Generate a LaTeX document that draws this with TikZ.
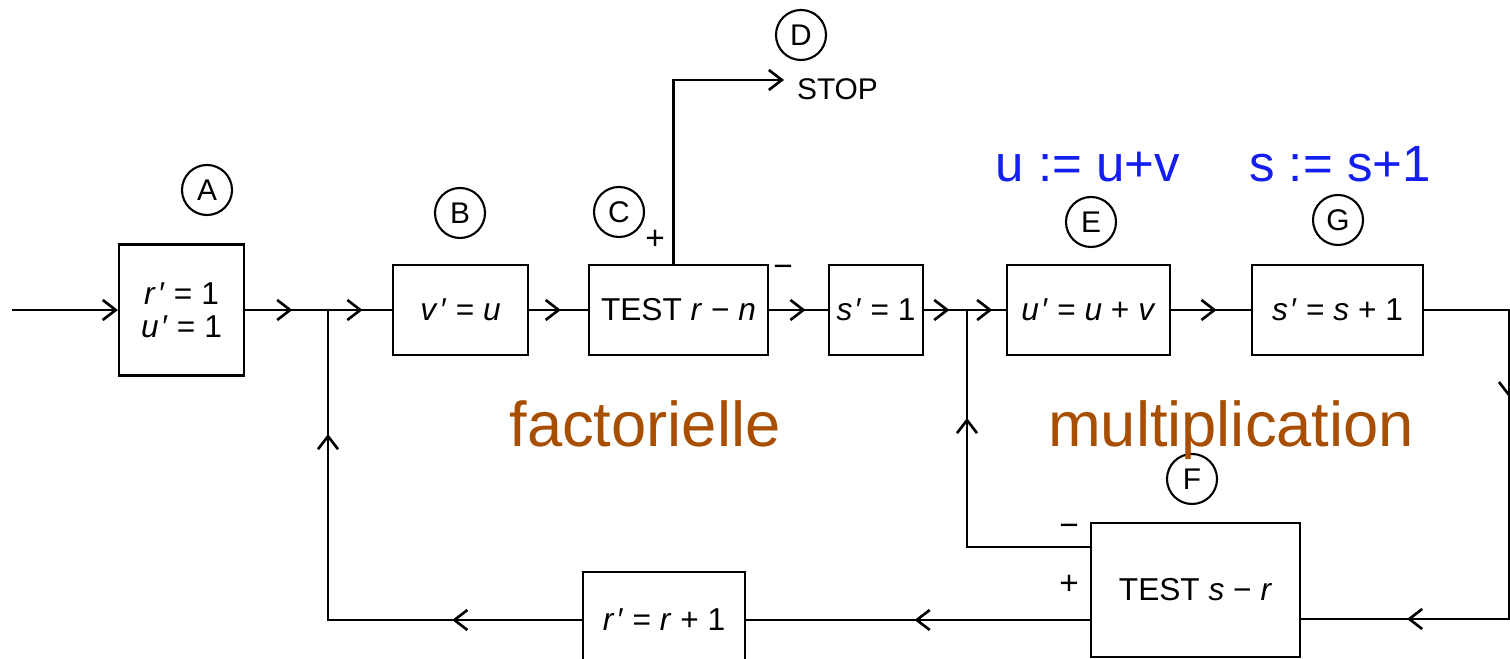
\documentclass[tikz,border=0pt]{standalone}
\usepackage{fontspec}
\setmainfont{Liberation Sans}
\usetikzlibrary{arrows.meta,decorations.markings}
\definecolor{annblue}{RGB}{20,30,240}
\definecolor{annbrown}{RGB}{168,78,0}
\newcommand{\va}[1]{\textit{#1}}
\tikzset{barb/.tip={Straight Barb[length=1.3mm,width=2mm,line width=0.75pt]}}
\begin{document}
\begin{tikzpicture}[x=0.01cm, y=-0.01cm, line width=0.6pt,
    box/.style={draw, inner sep=1pt, font=\fontsize{9}{11}\selectfont, align=center},
    tag/.style={draw, circle, minimum size=0.5cm, inner sep=0pt, font=\fontsize{8.5}{10}\selectfont},
    sign/.style={font=\fontsize{9.5}{10}\selectfont},
    blocktitle/.style={text=annbrown, font=\fontsize{18}{20}\selectfont, anchor=base},
    note/.style={text=annblue, font=\fontsize{14.5}{16}\selectfont, anchor=base},
    midarrow/.style={postaction={decorate, decoration={markings, mark=at position #1 with {\arrow{barb}}}}}]
    \useasboundingbox (0,0) rectangle (1510,659);
    % Boxes
    \node[box, minimum width=1.25cm, minimum height=1.31cm, font=\fontsize{9}{9.5}\selectfont] (A) at (181.5,310) {\va{r}\kern1pt′ = 1\\\va{u}\kern1pt′ = 1};
    \node[box, minimum width=1.35cm, minimum height=0.9cm] (B) at (460.5,310) {\va{v}\kern1pt′ = \va{u}};
    \node[box, minimum width=1.79cm, minimum height=0.9cm] (C) at (678.5,310) {TEST \va{r} − \va{n}};
    \node[box, minimum width=0.94cm, minimum height=0.9cm] (S) at (876,310) {\va{s}\kern1pt′ = 1};
    \node[box, minimum width=1.63cm, minimum height=0.9cm] (E) at (1088.5,310) {\va{u}\kern1pt′ = \va{u} + \va{v}};
    \node[box, minimum width=1.71cm, minimum height=0.9cm] (G) at (1337.5,310) {\va{s}\kern1pt′ = \va{s} + 1};
    \node[box, minimum width=2.09cm, minimum height=1.34cm] (F) at (1195.5,590) {TEST \va{s} − \va{r}};
    \node[box, minimum width=1.62cm, minimum height=0.96cm] (R) at (664,620) {\va{r}\kern1pt′ = \va{r} + 1};
    % Circled letters
    \node[tag] (tA) at (207,190) {A};
    \node[tag] (tB) at (460,213) {B};
    \node[tag] (tC) at (619,212) {C};
    \node[tag] (tD) at (801,35) {D};
    \node[tag] (tE) at (1091,222) {E};
    \node[tag] (tG) at (1338,220) {G};
    \node[tag] (tF) at (1192,479) {F};
    % Signs
    \node[sign] (pC) at (655,240) {+};
    \node[sign] (mC) at (783,271) {−};
    \node[sign] (mF) at (1069,530) {−};
    \node[sign] (pF) at (1069,585) {+};
    \node[font=\fontsize{8.5}{10}\selectfont, anchor=base west, inner sep=0pt] (stop) at (796,100) {STOP};
    % Coordinate
    \coordinate (in) at (12,310);
    \coordinate (J1) at (328,310);
    \coordinate (J2) at (967,310);
    \coordinate (Rt) at (1509,310);
    \coordinate (Rb) at (1509,619);
    \coordinate (Lb) at (328,620);
    \coordinate (M) at (967,547);
    \coordinate (Dend) at (784,80);
    % Linee
    \draw[-barb] (in) -- (A.west);
    \draw[midarrow=0.57] (A.east) -- (J1);
    \draw[midarrow=0.54] (J1) -- (B.west);
    \draw[midarrow=0.54] (B.east) -- (C.west);
    \draw[midarrow=0.62] (C.east) -- (S.west);
    \draw[midarrow=0.59] (S.east) -- (J2);
    \draw[midarrow=0.65] (J2) -- (E.west);
    \draw[midarrow=0.57] (E.east) -- (G.west);
    \draw[-barb] (C.north) ++(-5,0) |- (Dend); % stop
    \draw[midarrow=0.286, midarrow=0.824] (G.east) -- (Rt) -- (Rb) -- (F.east |- Rb); % back to test
    \draw[midarrow=0.70] (F.west |- M) -- (M) -- (J2); % minus
    \draw[midarrow=0.51] (F.west |- Lb) -- (R.east); % plus
    \draw[midarrow=0.23, midarrow=0.78] (R.west) -- (Lb) -- (J1);
    % Writing space
    \node[note] (nE) at (1088,182) {u := u+v};
    \node[note] (nG) at (1340,182) {s := s+1};
    \node[blocktitle] (fact) at (645,447) {factorielle};
    \node[blocktitle] (mult) at (1231,447) {multiplication};
\end{tikzpicture}
\end{document}
